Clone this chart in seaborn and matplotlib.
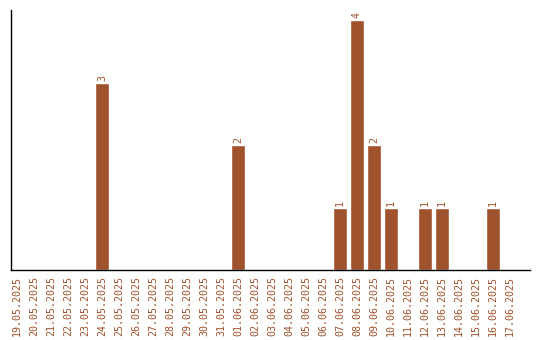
import matplotlib
matplotlib.use("Agg")
import matplotlib.pyplot as plt
import seaborn as sns
import pandas as pd

dates = ["19.05.2025","20.05.2025","21.05.2025","22.05.2025","23.05.2025","24.05.2025",
         "25.05.2025","26.05.2025","27.05.2025","28.05.2025","29.05.2025","30.05.2025",
         "31.05.2025","01.06.2025","02.06.2025","03.06.2025","04.06.2025","05.06.2025",
         "06.06.2025","07.06.2025","08.06.2025","09.06.2025","10.06.2025","11.06.2025",
         "12.06.2025","13.06.2025","14.06.2025","15.06.2025","16.06.2025","17.06.2025"]
counts = [0,0,0,0,0,3,0,0,0,0,0,0,0,2,0,0,0,0,0,1,4,2,1,0,1,1,0,0,1,0]

color = "#A0522D"
sns.set_style("white")
plt.rcParams['font.family'] = ['DejaVu Sans Mono']

df = pd.DataFrame({"date": dates, "count": counts})
fig = plt.figure(figsize=(5.4, 3.4), dpi=100)
ax = fig.add_axes([11/540, 70/340, 519/540, 260/340])
sns.barplot(data=df, x="date", y="count", color=color, saturation=1, width=0.84, ax=ax)
for p, v in zip(ax.patches, counts):
    if v > 0:
        ax.text(p.get_x() + p.get_width()/2, v + 0.03, str(v), rotation=90,
                ha="center", va="bottom", fontsize=7.2, color=color)
ax.set_xlim(-0.35, 30.18)
ax.set_ylim(0, 4.16)
ax.set_xlabel("")
ax.set_ylabel("")
ax.set_yticks([])
ax.tick_params(axis="x", length=0, pad=4, labelsize=7.2, labelcolor=color, rotation=90)
for s in ["top", "right"]:
    ax.spines[s].set_visible(False)
for s in ["left", "bottom"]:
    ax.spines[s].set_color("black")
    ax.spines[s].set_linewidth(1)
fig.savefig("out.png", dpi=100)
